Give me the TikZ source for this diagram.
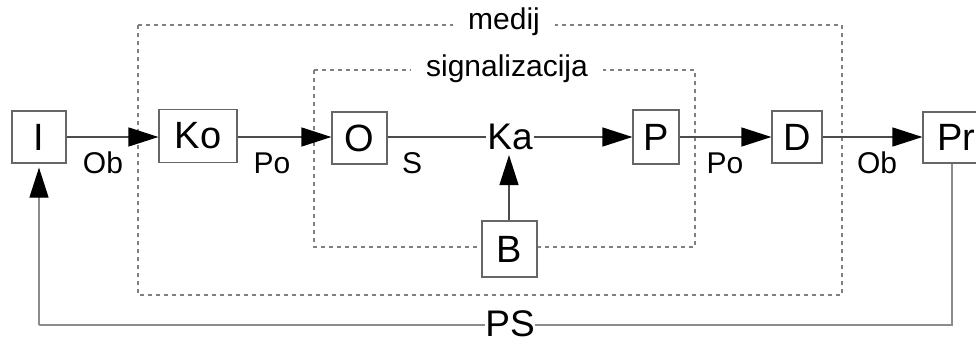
\documentclass[tikz,border=0pt]{standalone}
\usepackage{fontspec}
\setmainfont{Liberation Sans}
\usetikzlibrary{arrows.meta}
\begin{document}
\begin{tikzpicture}[x=1pt,y=-1pt,
  box/.style={draw=black!60,line width=1.2pt,fill=white,inner sep=0pt,font=\fontsize{38}{40}\selectfont},
  big/.style={inner sep=1pt,font=\fontsize{37}{40}\selectfont},
  lbl/.style={inner sep=0pt,font=\fontsize{30}{32}\selectfont},
  ttl/.style={fill=white,inner xsep=15pt,inner ysep=0pt,anchor=base,font=\fontsize{30}{32}\selectfont},
  conn/.style={draw=black!70,line width=1.3pt},
  tip/.style={-{Triangle[length=30pt,width=19pt,black]}},
  arr/.style={conn,tip},
  fb/.style={draw=black!45,line width=1.2pt},
  zone/.style={draw=black!50,line width=1.2pt,dash pattern=on 4pt off 4pt}]
\clip (0,0) rectangle (976,342);
\fill[white] (0,0) rectangle (976,342);
% zones
\draw[zone] (138,25) rectangle (842,295);
\draw[zone] (314,70) rectangle (695,247);
\node[ttl] (medij) at (504,30) {medij};
\node[ttl] (sig) at (507,77) {signalizacija};
% boxes
\node[box,minimum width=54pt,minimum height=52pt] (I) at (39,137) {I};
\node[box,minimum width=78pt,minimum height=53pt] (Ko) at (198,136) {Ko};
\node[box,minimum width=55pt,minimum height=52pt] (O) at (359.5,138) {O};
\node[big] (Ka) at (510,137) {Ka};
\node[box,minimum width=46pt,minimum height=54pt] (P) at (656,137) {P};
\node[box,minimum width=50pt,minimum height=52pt] (D) at (797,137) {D};
\node[box,minimum width=66pt,minimum height=51pt] (Pr) at (956,137.5) {Pr};
\node[box,minimum width=55pt,minimum height=56pt] (B) at (509.5,249) {B};
% connectors
\draw[arr] (I.east |- 0,137) -- (Ko.west |- 0,137);
\draw[arr] (Ko.east |- 0,137) -- (O.west |- 0,137);
\draw[conn] (O.east |- 0,137) -- (Ka.west);
\draw[arr] (Ka.east) -- (P.west |- 0,137);
\draw[arr] (P.east |- 0,137) -- (D.west |- 0,137);
\draw[arr] (D.east |- 0,137) -- (Pr.west |- 0,137);
\draw[arr,shorten >=4pt] (B.north -| 509,0) -- (Ka.south -| 509,0);
% labels
\node[lbl] (ob1) at (103,163) {Ob};
\node[lbl] (po1) at (272,163) {Po};
\node[lbl] (s) at (412,163) {S};
\node[lbl] (po2) at (725,163) {Po};
\node[lbl] (ob2) at (877,163) {Ob};
% feedback
\coordinate (fbR) at (952,325);
\coordinate (fbL) at (39,325);
\draw[fb] (Pr.south -| fbR) -- (fbR) -- (fbL);
\draw[fb,tip,shorten >=4pt] (fbL) -- (I.south);
\node[big,fill=white,inner sep=0pt] (PS) at (510,324) {PS};
\end{tikzpicture}
\end{document}
